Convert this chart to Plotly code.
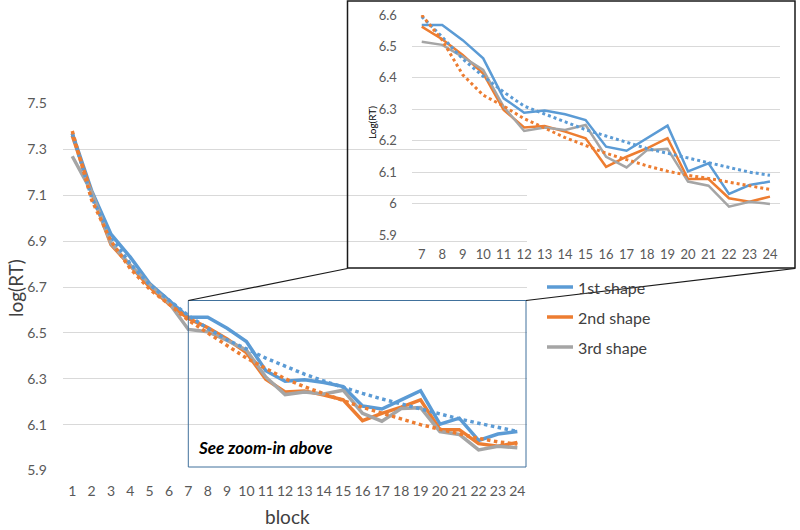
import plotly.graph_objects as go

# ---------------- data ----------------
blocks = list(range(1, 25))
block_labels = [str(b) for b in blocks]
series_names = ["1st shape", "2nd shape", "3rd shape"]

shape1 = [7.37, 7.12, 6.93, 6.83, 6.715, 6.64, 6.568, 6.568, 6.52, 6.462, 6.335, 6.289,
          6.296, 6.284, 6.266, 6.181, 6.168, 6.208, 6.248, 6.102, 6.128, 6.031, 6.059, 6.07]
shape2 = [7.36, 7.11, 6.885, 6.79, 6.70, 6.625, 6.563, 6.523, 6.473, 6.414, 6.298, 6.242,
          6.247, 6.229, 6.208, 6.117, 6.149, 6.176, 6.208, 6.078, 6.078, 6.017, 6.006, 6.022]
shape3 = [7.27, 7.115, 6.89, 6.795, 6.71, 6.63, 6.515, 6.505, 6.467, 6.425, 6.308, 6.231,
          6.242, 6.234, 6.25, 6.149, 6.115, 6.17, 6.174, 6.07, 6.057, 5.99, 6.006, 5.999]

# trend lines of the main chart (blocks 1-24)
trend1 = [7.37, 7.09, 6.92, 6.80, 6.71, 6.64, 6.575, 6.52, 6.47, 6.43, 6.39, 6.355,
          6.32, 6.29, 6.262, 6.236, 6.212, 6.19, 6.166, 6.145, 6.125, 6.106, 6.088, 6.07]
trend2 = [7.38, 7.08, 6.90, 6.78, 6.69, 6.625, 6.555, 6.50, 6.445, 6.39, 6.345, 6.30,
          6.265, 6.235, 6.205, 6.175, 6.15, 6.125, 6.10, 6.08, 6.06, 6.04, 6.025, 6.015]

# zoom-in (blocks 7-24)
zoom_blocks = list(range(7, 25))
zoom_labels = [str(b) for b in zoom_blocks]
zoom_trend1 = [6.595, 6.53, 6.46, 6.405, 6.355, 6.31, 6.285, 6.26, 6.235, 6.215,
               6.195, 6.175, 6.16, 6.145, 6.13, 6.115, 6.10, 6.09]
zoom_trend2 = [6.60, 6.52, 6.41, 6.345, 6.31, 6.27, 6.24, 6.21, 6.185, 6.16,
               6.14, 6.12, 6.103, 6.09, 6.08, 6.068, 6.057, 6.045]

main_yticks = [5.9, 6.1, 6.3, 6.5, 6.7, 6.9, 7.1, 7.3, 7.5]
main_ytext = ["5.9", "6.1", "6.3", "6.5", "6.7", "6.9", "7.1", "7.3", "7.5"]
zoom_yticks = [5.9, 6.0, 6.1, 6.2, 6.3, 6.4, 6.5, 6.6]
zoom_ytext = ["5.9", "6", "6.1", "6.2", "6.3", "6.4", "6.5", "6.6"]

colors = ["#5B9BD5", "#ED7D31", "#A5A5A5"]
W, H = 800, 530
FONT = "Lato"

def px(x):
    return x / W

def py(y):
    return 1 - y / H

fig = go.Figure()

# main chart solid lines
for name, vals, c in zip(series_names, [shape1, shape2, shape3], colors):
    fig.add_trace(go.Scatter(x=blocks, y=vals, mode="lines", name=name,
                             line=dict(color=c, width=3.5), showlegend=False,
                             xaxis="x", yaxis="y"))
# main chart trend lines
for vals, c in zip([trend1, trend2], colors[:2]):
    fig.add_trace(go.Scatter(x=blocks, y=vals, mode="lines",
                             line=dict(color=c, width=3.5, dash="dot"), showlegend=False,
                             xaxis="x", yaxis="y"))

# inset solid lines
for name, vals, c in zip(series_names, [shape1, shape2, shape3], colors):
    fig.add_trace(go.Scatter(x=zoom_blocks, y=vals[6:], mode="lines", name=name,
                             line=dict(color=c, width=2.5), showlegend=False,
                             xaxis="x2", yaxis="y2"))
for vals, c in zip([zoom_trend1, zoom_trend2], colors[:2]):
    fig.add_trace(go.Scatter(x=zoom_blocks, y=vals, mode="lines",
                             line=dict(color=c, width=3, dash="dot"), showlegend=False,
                             xaxis="x2", yaxis="y2"))

tickfont = dict(family=FONT, size=14, color="#595959")
zoomtickfont = dict(family=FONT, size=13, color="#595959")

fig.update_layout(
    template="none",
    width=W, height=H, autosize=False,
    margin=dict(l=0, r=0, t=0, b=0, pad=0),
    paper_bgcolor="white", plot_bgcolor="rgba(0,0,0,0)",
    font=dict(family=FONT),
    showlegend=False,
    xaxis=dict(domain=[px(62.6), px(527)], range=[0.5, 24.5], automargin=False,
               tickvals=blocks, ticktext=block_labels, showgrid=False,
               zeroline=False, showline=False, ticks="outside", ticklen=8,
               tickcolor="rgba(0,0,0,0)", tickfont=tickfont, anchor="y"),
    yaxis=dict(domain=[py(470.5), py(103.5)], range=[5.9, 7.5], automargin=False,
               tickvals=main_yticks, ticktext=main_ytext, showgrid=True,
               gridcolor="#D9D9D9", gridwidth=1, zeroline=False, showline=False,
               ticks="outside", ticklen=12, tickcolor="rgba(0,0,0,0)",
               tickfont=tickfont, anchor="x"),
    xaxis2=dict(domain=[px(411.5), px(780.2)], range=[6.5, 24.5], automargin=False,
                tickvals=zoom_blocks, ticktext=zoom_labels, showgrid=False,
                zeroline=False, showline=False, ticks="outside", ticklen=7,
                tickcolor="rgba(0,0,0,0)", tickfont=zoomtickfont, anchor="y2"),
    yaxis2=dict(domain=[py(235), py(15)], range=[5.9, 6.6], automargin=False,
                tickvals=zoom_yticks, ticktext=zoom_ytext, showgrid=True,
                gridcolor="#D9D9D9", gridwidth=1, zeroline=False, showline=False,
                ticks="outside", ticklen=11, tickcolor="rgba(0,0,0,0)",
                tickfont=zoomtickfont, anchor="x2"),
)

shapes = [
    # zoom region box in main chart
    dict(type="rect", xref="paper", yref="paper", x0=px(188.3), x1=px(526),
         y0=py(467), y1=py(300.5), line=dict(color="#41719C", width=1)),
    # inset frame
    dict(type="rect", xref="paper", yref="paper", x0=px(347.5), x1=px(795),
         y0=py(268), y1=py(1), line=dict(color="#1a1a1a", width=1.5)),
    # connectors
    dict(type="line", xref="paper", yref="paper", x0=px(188.3), y0=py(300.5),
         x1=px(347.5), y1=py(268.5), line=dict(color="#1a1a1a", width=1.2)),
    dict(type="line", xref="paper", yref="paper", x0=px(526), y0=py(300.5),
         x1=px(795), y1=py(268.5), line=dict(color="#1a1a1a", width=1.2)),
]
annotations = [
    dict(text="log(RT)", xref="paper", yref="paper", x=px(15), y=py(288),
         xanchor="center", yanchor="middle",
         showarrow=False, textangle=-90, font=dict(family=FONT, size=19, color="#404040")),
    dict(text="block", xref="paper", yref="paper", x=px(287), y=py(516),
         xanchor="center", yanchor="middle",
         showarrow=False, font=dict(family=FONT, size=19, color="#404040")),
    dict(text="Log(RT)", xref="paper", yref="paper", x=px(372), y=py(123),
         xanchor="center", yanchor="middle",
         showarrow=False, textangle=-90, font=dict(family=FONT, size=10, color="#000000")),
    dict(text="<b><i>See zoom-in above</i></b>", xref="paper", yref="paper",
         x=px(196), y=py(447), xanchor="left", yanchor="middle", showarrow=False,
         font=dict(family=FONT, size=17, color="#000000")),
]
legend_y = [287, 317, 347]
for name, c, yy in zip(series_names, colors, legend_y):
    shapes.append(dict(type="line", xref="paper", yref="paper", x0=px(547), x1=px(573),
                       y0=py(yy), y1=py(yy), line=dict(color=c, width=3.5)))
    annotations.append(dict(text=name, xref="paper", yref="paper", x=px(576), y=py(yy),
                            xanchor="left", yanchor="middle", showarrow=False,
                            font=dict(family=FONT, size=16, color="#404040")))

fig.update_layout(shapes=shapes, annotations=annotations)
fig.write_html("out.html", config={"displayModeBar": False},
               post_script="document.body.style.margin='0';document.body.style.overflow='hidden';")
